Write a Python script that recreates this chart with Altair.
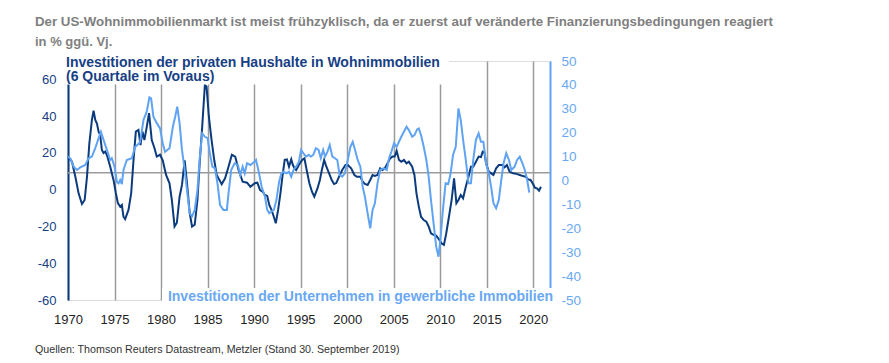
import altair as alt
import pandas as pd

# ---------------- data ----------------
# Investitionen der privaten Haushalte in Wohnimmobilien (6 Quartale im Voraus), % ggü. Vj. (left axis)
res_years = [
    1970.0, 1970.43, 1970.79, 1971.14, 1971.5, 1971.79, 1972.04, 1972.29, 1972.57, 1972.75,
    1972.93, 1973.11, 1973.29, 1973.46, 1973.64, 1973.82, 1974.0, 1974.18, 1974.54, 1974.89,
    1975.14, 1975.36, 1975.61, 1975.79, 1975.96, 1976.14, 1976.5, 1976.79, 1977.04, 1977.29,
    1977.57, 1977.79, 1978.0, 1978.21, 1978.46, 1978.71, 1979.0, 1979.29, 1979.54, 1979.89,
    1980.18, 1980.54, 1980.91, 1981.16, 1981.45, 1981.7, 1981.99, 1982.25, 1982.54, 1982.79,
    1983.08, 1983.33, 1983.62, 1983.91, 1984.17, 1984.42, 1984.71, 1984.89, 1985.14, 1985.43,
    1985.72, 1985.98, 1986.52, 1986.88, 1987.25, 1987.61, 1987.97, 1988.33, 1988.77, 1989.24,
    1989.6, 1990.07, 1990.35, 1990.64, 1990.92, 1991.17, 1991.41, 1991.63, 1991.87, 1992.12,
    1992.33, 1992.58, 1992.83, 1993.04, 1993.29, 1993.53, 1993.75, 1993.99, 1994.17, 1994.35,
    1994.52, 1994.81, 1995.16, 1995.41, 1995.65, 1995.94, 1996.22, 1996.47, 1996.82, 1997.07,
    1997.28, 1997.53, 1997.77, 1998.06, 1998.34, 1998.59, 1998.83, 1999.12, 1999.47, 1999.82,
    2000.07, 2000.43, 2000.78, 2001.06, 2001.42, 2001.67, 2001.91, 2002.2, 2002.48, 2002.73,
    2002.98, 2003.26, 2003.55, 2003.79, 2004.04, 2004.33, 2004.61, 2004.86, 2005.11, 2005.32,
    2005.57, 2005.82, 2006.1, 2006.38, 2006.63, 2006.99, 2007.23, 2007.45, 2007.7, 2007.94,
    2008.23, 2008.51, 2008.76, 2009.01, 2009.29, 2009.57, 2009.84, 2010.14, 2010.4, 2010.65,
    2010.94, 2011.23, 2011.49, 2011.74, 2011.96, 2012.21, 2012.46, 2012.75, 2013.04, 2013.3,
    2013.55, 2013.84, 2014.13, 2014.38, 2014.57, 2014.75, 2014.93, 2015.22, 2015.47, 2015.72,
    2016.01, 2016.3, 2016.67, 2016.92, 2017.17, 2017.46, 2017.83, 2018.19, 2018.55, 2018.91,
    2019.2, 2019.46, 2019.71, 2019.93, 2020.18, 2020.43, 2020.62, 2020.83,
]
res_values = [
    18, 15.2, 7, -2, -7.8, -5.6, 7, 25, 38, 43,
    38, 36, 31.6, 29.8, 21.6, 20, 20.7, 18.9, 12.5, 5.3,
    -1.8, -7.3, -9.2, -8.3, -14.7, -16, -11, -2, 16, 31.6,
    32.5, 24.3, 31.6, 27, 34, 41.6, 27, 22.7, 18, 19,
    16, 8, 3.5, -5.6, -20, -18, -3.8, 2.6, 16, 3.5,
    -12.7, -20, -19, -5.6, 16, 34, 57, 56, 39.7, 27,
    16, 8, 3, 6.2, 12.5, 19, 18, 10.7, 4.4, 3.8,
    1.6, 3.5, 3.8, -0.2, -1.1, -2.9, -3.4, -8.3, -11, -14.7,
    -18.3, -11, -2, 7, 16.2, 16.5, 12.5, 16.5, 13.4, 11.6,
    10.7, 13.4, 16.2, 17, 10.7, 3.5, -1.1, -3.8, 0.8, 5.3,
    10.7, 16.2, 12.5, 8.9, 5.3, 3.1, 3.6, 7, 10.7, 13.4,
    13.4, 11.6, 8, 7, 7, 4.4, 3.1, 2.6, 5.3, 8,
    7.5, 8, 11.6, 10.7, 11.6, 14.3, 17, 18, 18, 21.2,
    16.2, 15.2, 16.2, 14.3, 15.2, 12.5, 8, -2, -9.2, -14.7,
    -16.5, -17.4, -20, -23.7, -24.6, -25, -26.8, -29.2, -30, -23.7,
    -14.7, -5.6, 6.2, -7.4, -5.6, -2.9, -4.7, 1.6, 7, 12.5,
    12.5, 15.2, 18, 17.7, 20.7, 20.3, 14.3, 9.8, 8.9, 8,
    11.6, 13.4, 13.4, 12.2, 13.4, 9.8, 8.9, 8.6, 8, 7.4,
    7, 5.6, 5.3, 3.5, 1.1, 0.6, -0.5, 1.6,
]

# Investitionen der Unternehmen in gewerbliche Immobilien, % ggü. Vj. (right axis)
com_years = [
    1970.0, 1970.25, 1970.61, 1970.96, 1971.32, 1971.86, 1972.21, 1972.57, 1972.93, 1973.29,
    1973.54, 1973.82, 1974.18, 1974.54, 1974.71, 1975.0, 1975.25, 1975.43, 1975.61, 1975.79,
    1975.96, 1976.32, 1976.86, 1977.21, 1977.75, 1978.11, 1978.46, 1978.75, 1978.93, 1979.18,
    1979.54, 1979.89, 1980.18, 1980.43, 1980.91, 1981.27, 1981.52, 1981.74, 1981.99, 1982.25,
    1982.54, 1982.83, 1983.08, 1983.33, 1983.62, 1983.91, 1984.17, 1984.42, 1984.71, 1985.0,
    1985.25, 1985.51, 1985.8, 1986.09, 1986.34, 1986.7, 1987.07, 1987.25, 1987.54, 1987.9,
    1988.26, 1988.51, 1988.77, 1988.99, 1989.24, 1989.6, 1990.07, 1990.21, 1990.46, 1990.81,
    1991.17, 1991.41, 1991.63, 1991.87, 1992.12, 1992.4, 1992.69, 1992.93, 1993.18, 1993.46,
    1993.75, 1993.99, 1994.24, 1994.52, 1994.81, 1995.05, 1995.3, 1995.58, 1995.87, 1996.11,
    1996.36, 1996.64, 1996.93, 1997.17, 1997.42, 1997.63, 1997.88, 1998.13, 1998.41, 1998.69,
    1998.94, 1999.19, 1999.47, 1999.75, 2000.07, 2000.35, 2000.6, 2000.85, 2001.13, 2001.42,
    2001.67, 2001.91, 2002.2, 2002.48, 2002.73, 2002.98, 2003.26, 2003.55, 2003.9, 2004.26,
    2004.5, 2004.75, 2005.04, 2005.32, 2005.57, 2005.82, 2006.1, 2006.38, 2006.63, 2006.99,
    2007.23, 2007.52, 2007.7, 2007.94, 2008.23, 2008.51, 2008.76, 2009.01, 2009.29, 2009.57,
    2009.82, 2010.04, 2010.29, 2010.58, 2010.87, 2011.12, 2011.38, 2011.67, 2011.96, 2012.21,
    2012.46, 2012.75, 2013.04, 2013.3, 2013.55, 2013.84, 2014.13, 2014.38, 2014.64, 2014.93,
    2015.22, 2015.47, 2015.72, 2016.01, 2016.3, 2016.56, 2016.81, 2017.1, 2017.39, 2017.64,
    2018.0, 2018.26, 2018.55, 2018.84, 2019.09, 2019.35, 2019.57,
]
com_values = [
    10, 9.3, 5.8, 4.4, 5.5, 6.5, 9.3, 10, 13.5, 17.7,
    20.4, 17, 12.8, 8.6, 9.3, 5.8, -0.5, -1.2, 0.2, -1.5,
    4.4, 8.6, 9.3, 14, 16, 25.3, 28.8, 34.8, 34.4, 26.7,
    24, 21.8, 15.6, 12, 13.5, 22.5, 26.7, 30.9, 24, 12.8,
    4.4, -5.4, -13.7, -15, -12.3, -4, 10, 19.7, 18.3, 17.7,
    11.4, 5.8, 5.1, -1.9, -10.3, -12.3, -12.3, -5.4, 4.4, 7.2,
    6.5, 2.3, 5.8, 3, 7.2, 6.5, 7.9, 8.6, 4.4, -2.6,
    -6.8, -12.3, -13.7, -13, -12.3, -8.2, -0.5, 3, 3.7, 3,
    3.7, 1.6, 4.4, 5.8, 7.9, 12.8, 11.4, 10, 10.7, 10,
    10.7, 13.5, 12.8, 9.3, 12.8, 10, 12, 14.9, 10, 9.3,
    8.6, 2.3, 1.6, 3, 8.6, 14.1, 16.2, 12.8, 8.6, 5.8,
    -2.6, -6.8, -13.7, -20, -12.3, -9.5, -1.2, 4.4, 5.1, 4.4,
    9.3, 12, 15.6, 14.1, 16.2, 18.3, 20.4, 22.5, 21.1, 18.3,
    19, 21.4, 21.8, 19, 14.1, 8.6, 1.6, -8.2, -17.9, -27.7,
    -31.9, -24, -12.3, -1.2, -1.5, 3, 10.7, 14.1, 30.2, 25.3,
    17, 8.6, -1.2, -1.2, 8.6, 17, 19.7, 16.2, 16.2, 7.2,
    3, -2.6, -9.5, -11.6, -8.2, 0.2, 7.2, 11.4, 8.6, 4.4,
    5.8, 8.6, 10, 7.2, 4.4, 0.2, -5.1,
]

ref_value = [9.2]                      # grey horizontal reference line (left scale)
x_ticks = [1970, 1975, 1980, 1985, 1990, 1995, 2000, 2005, 2010, 2015, 2020]
left_ticks = [-60, -40, -20, 0, 20, 40, 60]
right_ticks = [-50, -40, -30, -20, -10, 0, 10, 20, 30, 40, 50]

title_text = ("Der US-Wohnimmobilienmarkt ist meist frühzyklisch, da er zuerst auf "
              "veränderte Finanzierungsbedingungen reagiert")
subtitle_text = "in % ggü. Vj."
res_label = ["Investitionen der privaten Haushalte in Wohnimmobilien", "(6 Quartale im Voraus)"]
com_label = "Investitionen der Unternehmen in gewerbliche Immobilien"
source_text = "Quellen: Thomson Reuters Datastream, Metzler (Stand 30. September 2019)"

# ---------------- styles ----------------
FONT = "Liberation Sans"
DARK = "#0b3b7c"
DARK_TXT = "#173f85"
LIGHT = "#5fa3f2"
LIGHT_TXT = "#6aa8f2"
GREY = "#9b9b9b"
W, H = 482, 239

df_res = pd.DataFrame({"year": res_years, "value": res_values})
df_com = pd.DataFrame({"year": com_years, "value": com_values})
df_ref = pd.DataFrame({"v": ref_value})
one = alt.Data(values=[{"k": 1}])

plain_num = "'' + datum.value"   # hyphen-minus like the reference

x_scale = alt.Scale(domain=[1970, 2021.8], nice=False, zero=False)
x_axis = alt.Axis(values=x_ticks, format="d", title=None, domain=False, ticks=False,
                  grid=True, gridColor=GREY, gridWidth=1.5, labelColor="#222222",
                  labelFontSize=13, labelFont=FONT, labelPadding=13, labelFlush=False)
left_scale = alt.Scale(domain=[-60, 70], nice=False, zero=False)
left_axis = alt.Axis(orient="left", values=left_ticks, title=None, grid=False, ticks=False,
                     domainColor=DARK, domainWidth=2, labelColor=DARK_TXT, labelFontSize=13,
                     labelFont=FONT, labelPadding=12, labelExpr=plain_num)
right_scale = alt.Scale(domain=[-50, 50], nice=False, zero=False)
right_axis = alt.Axis(orient="right", values=right_ticks, title=None, grid=False, ticks=False,
                      domainColor=LIGHT, domainWidth=2, labelColor=LIGHT_TXT, labelFontSize=13.5,
                      labelFont=FONT, labelPadding=11, labelExpr=plain_num)

x_enc = alt.X("year:Q", scale=x_scale, axis=x_axis)

ref = alt.Chart(df_ref).mark_rule(color=GREY, strokeWidth=1.5).encode(
    y=alt.Y("v:Q", scale=left_scale, axis=left_axis))
dark = alt.Chart(df_res).mark_line(color=DARK, strokeWidth=2).encode(
    x=x_enc, y=alt.Y("value:Q", scale=left_scale, axis=left_axis))
light = alt.Chart(df_com).mark_line(color=LIGHT, strokeWidth=2).encode(
    x=x_enc, y=alt.Y("value:Q", scale=right_scale, axis=right_axis))

# white label boxes
box_top = alt.Chart(one).mark_rect(color="white").encode(
    x=alt.value(-3), x2=alt.value(381), y=alt.value(-10), y2=alt.value(23.5))
box_bot = alt.Chart(one).mark_rect(color="white").encode(
    x=alt.value(94), x2=alt.value(488), y=alt.value(227), y2=alt.value(243))

lab1 = alt.Chart(one).mark_text(align="left", baseline="middle", font=FONT, fontSize=14,
                                fontWeight="bold", color=DARK_TXT).encode(
    x=alt.value(-2), y=alt.value(1.5), text=alt.value(res_label[0]))
lab2 = alt.Chart(one).mark_text(align="left", baseline="middle", font=FONT, fontSize=14,
                                fontWeight="bold", color=DARK_TXT).encode(
    x=alt.value(-2), y=alt.value(16), text=alt.value(res_label[1]))
lab3 = alt.Chart(one).mark_text(align="right", baseline="middle", font=FONT, fontSize=14,
                                fontWeight="bold", color=LIGHT_TXT).encode(
    x=alt.value(485), y=alt.value(236), text=alt.value(com_label))
src = alt.Chart(one).mark_text(align="left", baseline="middle", font=FONT, fontSize=10.7,
                               color="#333333").encode(
    x=alt.value(-33), y=alt.value(289), text=alt.value(source_text))

chart = alt.layer(
    alt.layer(ref, dark), light, box_top, box_bot, lab1, lab2, lab3, src
).resolve_scale(y="independent").properties(
    width=W, height=H,
    autosize=alt.AutoSizeParams(type="none"),
    padding={"left": 60, "top": 53, "right": 320, "bottom": 60},
    title=alt.Title(text=title_text, subtitle=subtitle_text, anchor="start", frame="group",
                    dx=-33, font=FONT, fontSize=13.3, fontWeight="bold", color="#808080",
                    subtitleFont=FONT, subtitleFontSize=13, subtitleFontWeight="bold",
                    subtitleColor="#808080", subtitlePadding=8, offset=2),
).configure_view(stroke=None).configure(background="white")

chart.save("out.html", embed_options={"renderer": "svg", "actions": False})
